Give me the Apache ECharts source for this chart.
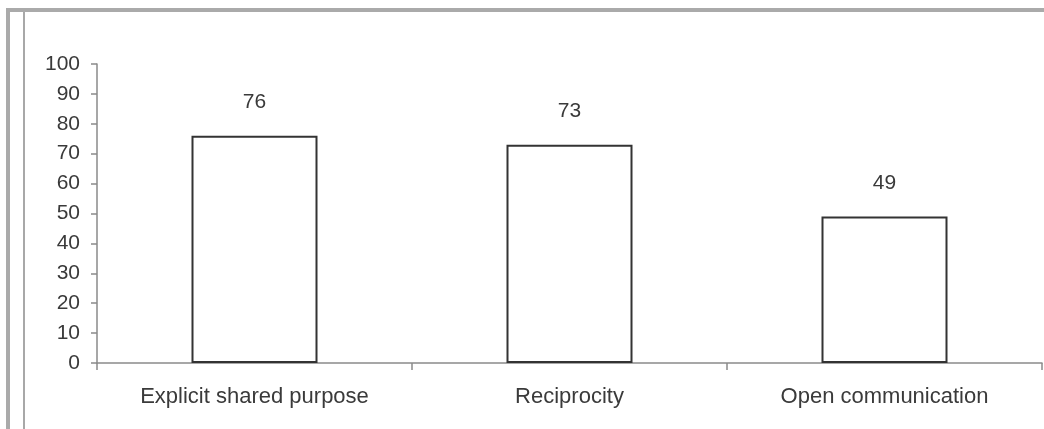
<!DOCTYPE html>
<html>
<head>
<meta charset="utf-8">
<script src="https://cdn.jsdelivr.net/npm/echarts@6/dist/echarts.min.js"></script>
<style>
html,body{margin:0;padding:0;background:#fff;}
#c{width:1044px;height:429px;}
</style>
</head>
<body>
<div id="c"></div>
<script>
var categories = ["Explicit shared purpose", "Reciprocity", "Open communication"];
var values = [76, 73, 49];
var yTicks = [0, 10, 20, 30, 40, 50, 60, 70, 80, 90, 100];

var chart = echarts.init(document.getElementById('c'));
var font = '"Liberation Sans", Arial, sans-serif';
chart.setOption({
  animation: false,
  backgroundColor: '#ffffff',
  graphic: [
    { type: 'rect', shape: { x: 6, y: 8, width: 1038, height: 4 }, style: { fill: '#aaaaaa' } },
    { type: 'rect', shape: { x: 6, y: 8, width: 4, height: 421 }, style: { fill: '#aaaaaa' } },
    { type: 'rect', shape: { x: 23, y: 12, width: 2, height: 417 }, style: { fill: '#a8a8a8' } }
  ],
  grid: { left: 97, right: 2, top: 64, bottom: 66, containLabel: false },
  xAxis: {
    type: 'category',
    data: categories,
    axisLine: { lineStyle: { color: '#8a8a8a', width: 1.5 } },
    axisTick: { show: true, length: 7, alignWithLabel: false, lineStyle: { color: '#8a8a8a', width: 1.5 } },
    axisLabel: { color: '#3a3a3a', fontSize: 22, fontFamily: font, margin: 23 }
  },
  yAxis: {
    type: 'value',
    min: yTicks[0],
    max: yTicks[yTicks.length - 1],
    interval: 10,
    axisLine: { show: true, lineStyle: { color: '#8a8a8a', width: 1.5 } },
    axisTick: { show: true, length: 6, lineStyle: { color: '#8a8a8a', width: 1.5 } },
    splitLine: { show: false },
    axisLabel: { color: '#3a3a3a', fontSize: 21, fontFamily: font, margin: 17 }
  },
  series: [{
    type: 'bar',
    data: values,
    barWidth: 126,
    itemStyle: { color: '#ffffff', borderColor: '#333333', borderWidth: 2 },
    label: { show: true, position: 'top', distance: 23, color: '#3a3a3a', fontSize: 21, fontFamily: font }
  }]
});
</script>
</body>
</html>
